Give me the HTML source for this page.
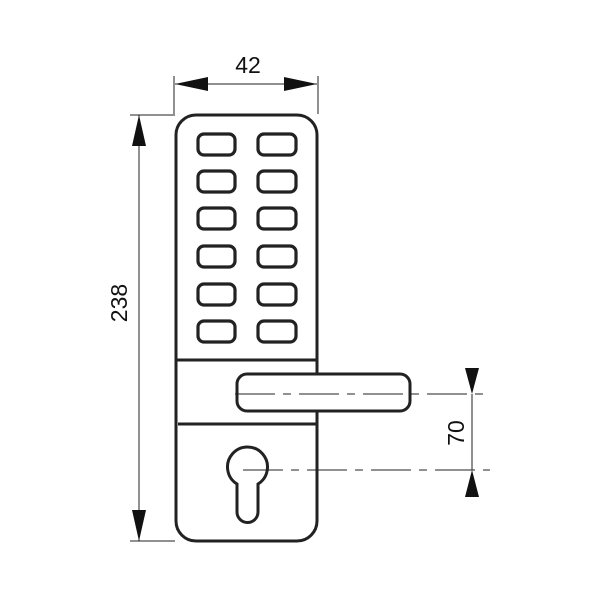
<!DOCTYPE html>
<html><head><style>body{margin:0;background:#fff}svg{display:block}</style></head><body>
<svg width="600" height="600" viewBox="0 0 600 600" xmlns="http://www.w3.org/2000/svg" font-family="Liberation Sans, sans-serif">
<g fill="none" stroke="#222" stroke-width="3">
<rect x="176" y="115" width="141" height="426" rx="20"/>
<line x1="177" y1="360" x2="316" y2="360"/>
<line x1="178" y1="424" x2="316" y2="424"/>
<g stroke-width="3.2">
<rect x="198" y="134" width="37" height="21" rx="6"/><rect x="258" y="134" width="38" height="21" rx="6"/>
<rect x="198" y="171" width="37" height="21" rx="6"/><rect x="258" y="171" width="38" height="21" rx="6"/>
<rect x="198" y="208" width="37" height="21" rx="6"/><rect x="258" y="208" width="38" height="21" rx="6"/>
<rect x="198" y="246" width="37" height="21" rx="6"/><rect x="258" y="246" width="38" height="21" rx="6"/>
<rect x="198" y="284" width="37" height="21" rx="6"/><rect x="258" y="284" width="38" height="21" rx="6"/>
<rect x="198" y="321" width="37" height="21" rx="6"/><rect x="258" y="321" width="38" height="21" rx="6"/>
</g>
<rect x="237" y="374" width="173" height="37" rx="10" fill="#fff"/>
<path d="M237 484 A20 20 0 1 1 258 484 L258 512 A10.5 10.5 0 0 1 237 512 Z"/>
</g>
<g stroke="#222" stroke-width="1" fill="none">
<line x1="174" y1="76" x2="174" y2="114"/><line x1="318" y1="76" x2="318" y2="114"/>
<line x1="175" y1="84" x2="317" y2="84"/>
<line x1="130" y1="115" x2="175" y2="115"/><line x1="130" y1="541" x2="175" y2="541"/>
<line x1="139" y1="115" x2="139" y2="541"/>
<line x1="472" y1="394" x2="472" y2="470"/>
<line x1="235" y1="394" x2="485" y2="394" stroke-dasharray="40,8,8,8"/>
<line x1="243" y1="470" x2="490" y2="470" stroke-dasharray="40,8,8,8"/>
</g>
<g fill="#111">
<polygon points="175,84 208,77 208,91"/><polygon points="317,84 284,77 284,91"/>
<polygon points="139,115 132,146 146,146"/><polygon points="139,541 132,510 146,510"/>
<polygon points="472,394 465,368 479,368"/><polygon points="472,470 465,497 479,497"/>
</g>
<g font-size="23" fill="#111" text-anchor="middle">
<text x="248" y="73">42</text>
<text transform="translate(127,303) rotate(-90)">238</text>
<text transform="translate(464,433) rotate(-90)">70</text>
</g>
</svg>
</body></html>
